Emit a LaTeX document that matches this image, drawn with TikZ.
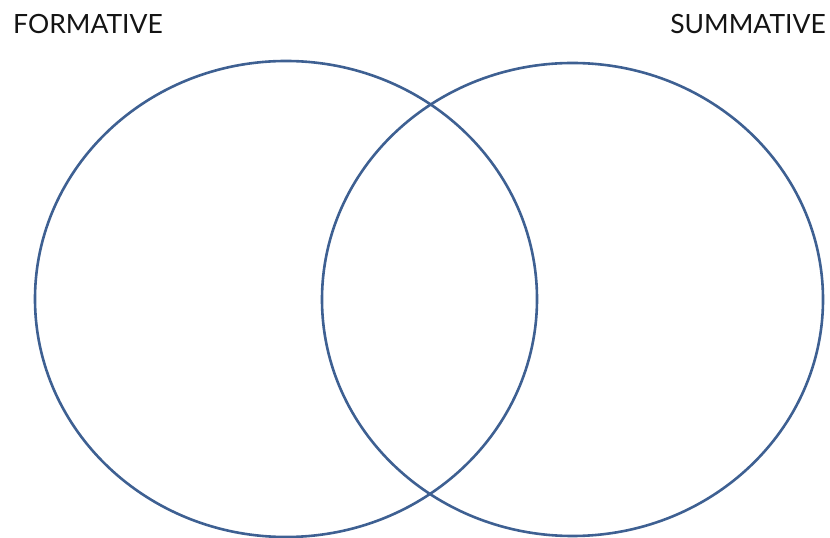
\documentclass[tikz,border=0pt]{standalone}
\usepackage{fontspec}
\setmainfont{Lato}
\usetikzlibrary{positioning,shapes.geometric}
\definecolor{ringblue}{RGB}{62,96,146}

\begin{document}
\begin{tikzpicture}[
  x=1pt, y=1pt,
  ring/.style={draw=ringblue, line width=2.6pt, ellipse, inner sep=0pt},
  title/.style={font=\fontsize{26.5}{30}\selectfont, text=black!92, inner sep=0pt, anchor=base west}]
\useasboundingbox (0,0) rectangle (830,538);
\node[ring, minimum width=502pt, minimum height=476pt] (form) at (286,239) {};
\node[ring, minimum width=501pt, minimum height=473pt] (summ) at (572.5,238.5) {};
\node[title] (formlbl) at (13,504) {FORMATIVE};
\node[title, anchor=base east] (summlbl) at (826,504) {SUMMATIVE};
\end{tikzpicture}
\end{document}
